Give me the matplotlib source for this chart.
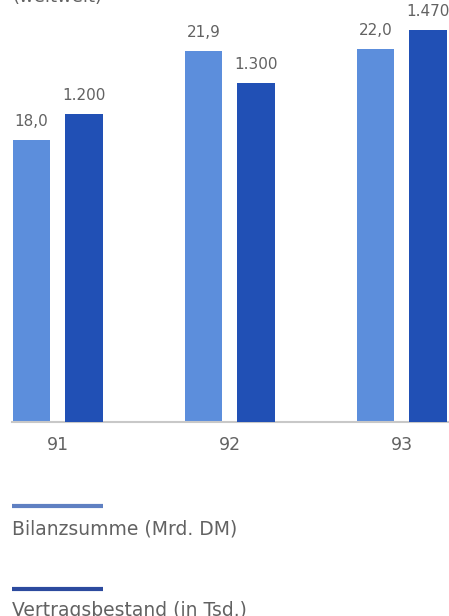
import matplotlib
matplotlib.use("Agg")
import matplotlib.pyplot as plt
import numpy as np

years = ["91", "92", "93"]
bilanzsumme = [18.0, 21.9, 22.0]          # Mrd. DM
vertragsbestand = [1200, 1300, 1470]      # in Tsd.
bilanz_labels = ["18,0", "21,9", "22,0"]
vertrag_labels = ["1.200", "1.300", "1.470"]

LIGHT = "#5c8edc"
DARK = "#2150b5"
TEXT = "#626262"

plt.rcParams["font.family"] = ["DejaVu Sans"]

W, H = 449, 616
fig = plt.figure(figsize=(W / 100, H / 100), dpi=100)

# axes from x=12px to right edge, baseline at y=422px, top at figure top
ax = fig.add_axes([12 / W, (H - 422) / H, 1 - 12 / W, 422 / H])
ax2 = ax.twinx()

x = np.arange(len(years))
width = 0.218
off = 0.1526

ax.bar(x - off, bilanzsumme, width, color=LIGHT, zorder=2)
ax2.bar(x + off, vertragsbestand, width, color=DARK, zorder=2)

ax.set_ylim(5.7, 24.13)
ax2.set_ylim(210, 1568)
ax.set_xlim(-0.266, 2.275)
ax2.set_xlim(-0.266, 2.275)

for xi, v, s in zip(x, bilanzsumme, bilanz_labels):
    ax.annotate(s, (xi - off, v), xytext=(0, 8), textcoords="offset points",
                ha="center", va="bottom", fontsize=11, color=TEXT)
for xi, v, s in zip(x, vertragsbestand, vertrag_labels):
    ax2.annotate(s, (xi + off, v), xytext=(0, 8), textcoords="offset points",
                 ha="center", va="bottom", fontsize=11, color=TEXT)

for a in (ax, ax2):
    for side in ("top", "left", "right"):
        a.spines[side].set_visible(False)
    a.set_yticks([])
    a.patch.set_visible(False)
ax.spines["bottom"].set_color("#c8c8c8")
ax.spines["bottom"].set_linewidth(1.5)
ax2.spines["bottom"].set_visible(False)

ax.set_xticks(x)
ax.set_xticklabels(years, fontsize=12.5, color=TEXT)
ax.tick_params(axis="x", length=0, pad=10)

# header line, mostly above the top edge
fig.text(12 / W, 1 - 2 / H, "(weltweit)", fontsize=13, color=TEXT,
         ha="left", va="baseline")

# legend: swatch line with caption below
def legend_entry(y_line, y_text, color, label):
    fig.add_artist(plt.Line2D([12 / W, 103 / W], [1 - y_line / H] * 2,
                              color=color, lw=3, solid_capstyle="butt"))
    fig.text(12 / W, 1 - y_text / H, label, fontsize=13.5, color=TEXT,
             ha="left", va="center")

legend_entry(506, 529, "#5f80c2", "Bilanzsumme (Mrd. DM)")
legend_entry(589, 611, "#2c4a9e", "Vertragsbestand (in Tsd.)")

fig.savefig("out.png", dpi=100)
